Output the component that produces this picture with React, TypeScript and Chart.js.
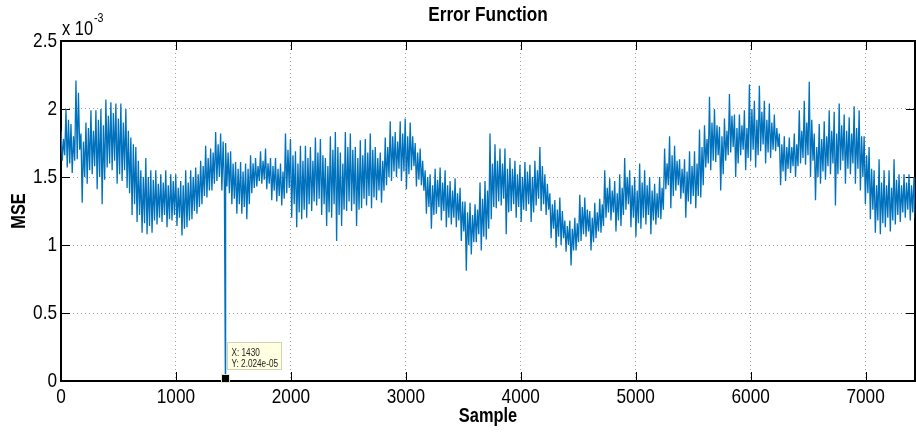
import React, { useEffect, useRef } from "react";
import { Chart, registerables } from "chart.js";

Chart.register(...registerables);

// ---- axis settings ----
const X_MAX = 7430;
const Y_MAX = 2.5; // in units of 1e-3
const xTickValues = [0, 1000, 2000, 3000, 4000, 5000, 6000, 7000];
const yTickValues = [0, 0.5, 1, 1.5, 2, 2.5];
const BLOCK_SAMPLES = 43.4; // each block holds two peaks and two troughs

// ---- texts ----
const titleText = "Error Function";
const xTitle = "Sample";
const yTitle = "MSE";
const exponentBase = "x 10";
const exponentPower = "-3";

// ---- series (MSE, units of 1e-3), read per block of ~43 samples ----
// largest peak of each block
const mseHigh = [
  1.84, 2.0, 1.89, 2.21, 1.82, 1.9, 1.99, 1.99, 2.0, 2.07,
  2.05, 2.04, 2.04, 2.0, 1.79, 1.72, 1.55, 1.64, 1.55, 1.55,
  1.52, 1.55, 1.52, 1.52, 1.47, 1.55, 1.55, 1.57, 1.62, 1.73,
  1.71, 1.83, 1.82, 1.75, 1.69, 1.61, 1.61, 1.6, 1.66, 1.64,
  1.69, 1.71, 1.64, 1.64, 1.6, 1.82, 1.78, 1.69, 1.73, 1.73,
  1.72, 1.79, 1.78, 1.64, 1.8, 1.83, 1.68, 1.83, 1.82, 1.72,
  1.77, 1.78, 1.82, 1.72, 1.68, 1.79, 1.91, 1.83, 1.91, 1.93,
  1.9, 1.75, 1.71, 1.55, 1.52, 1.56, 1.57, 1.55, 1.47, 1.49,
  1.42, 1.32, 1.31, 1.3, 1.46, 1.47, 1.82, 1.74, 1.71, 1.71,
  1.64, 1.62, 1.59, 1.61, 1.59, 1.62, 1.72, 1.52, 1.38, 1.33,
  1.35, 1.18, 1.18, 1.2, 1.37, 1.35, 1.25, 1.31, 1.34, 1.55,
  1.49, 1.47, 1.52, 1.64, 1.55, 1.5, 1.6, 1.55, 1.5, 1.45,
  1.5, 1.71, 1.8, 1.73, 1.63, 1.63, 1.69, 1.69, 1.85, 1.88,
  2.09, 2.0, 1.87, 1.93, 2.11, 1.96, 1.96, 1.99, 2.18, 2.06,
  2.17, 2.06, 2.04, 1.96, 1.82, 1.8, 1.79, 1.82, 1.99, 2.06,
  2.2, 1.82, 1.89, 1.91, 1.99, 1.98, 2.04, 1.96, 1.94, 2.02,
  1.99, 1.8, 1.72, 1.55, 1.63, 1.55, 1.55, 1.63, 1.52, 1.52,
  1.52, 1.5,
];

// deepest trough of each block
const mseLow = [
  1.62, 1.57, 1.53, 1.63, 1.31, 1.45, 1.52, 1.41, 1.3, 1.57,
  1.55, 1.45, 1.47, 1.42, 1.22, 1.17, 1.09, 1.08, 1.09, 1.15,
  1.17, 1.13, 1.18, 1.14, 1.07, 1.13, 1.19, 1.23, 1.3, 1.35,
  1.4, 1.47, 1.4, 1.43, 1.3, 1.23, 1.23, 1.19, 1.38, 1.43,
  1.45, 1.41, 1.33, 1.32, 1.29, 1.38, 1.2, 1.13, 1.19, 1.2,
  1.25, 1.29, 1.22, 1.14, 1.2, 1.03, 1.14, 1.25, 1.25, 1.14,
  1.27, 1.29, 1.27, 1.33, 1.31, 1.44, 1.47, 1.5, 1.47, 1.41,
  1.55, 1.43, 1.44, 1.23, 1.12, 1.23, 1.18, 1.13, 1.15, 1.13,
  1.03, 0.81, 0.93, 1.02, 0.96, 1.04, 1.19, 1.27, 1.29, 1.08,
  1.25, 1.2, 1.17, 1.25, 1.17, 1.29, 1.25, 1.22, 1.05, 0.98,
  1.0, 0.95, 0.85, 0.96, 1.03, 1.06, 0.96, 1.05, 1.09, 1.2,
  1.18, 1.1, 1.14, 1.26, 1.13, 1.06, 1.12, 1.15, 1.08, 1.15,
  1.19, 1.41, 1.27, 1.4, 1.34, 1.2, 1.3, 1.27, 1.35, 1.57,
  1.55, 1.61, 1.4, 1.62, 1.68, 1.5, 1.66, 1.55, 1.62, 1.57,
  1.69, 1.6, 1.64, 1.69, 1.44, 1.47, 1.53, 1.5, 1.6, 1.59,
  1.5, 1.33, 1.45, 1.48, 1.52, 1.29, 1.55, 1.45, 1.52, 1.45,
  1.4, 1.3, 1.19, 1.09, 1.08, 1.13, 1.1, 1.15, 1.17, 1.2,
  1.18, 1.2,
];

// second (smaller) peak of each block
const mseHigh2 = [
  1.78, 1.92, 1.8, 2.12, 1.76, 1.86, 1.84, 1.92, 1.88, 1.95,
  1.97, 1.93, 1.9, 1.84, 1.74, 1.62, 1.5, 1.5, 1.48, 1.45,
  1.46, 1.44, 1.47, 1.42, 1.44, 1.46, 1.5, 1.52, 1.58, 1.64,
  1.68, 1.74, 1.76, 1.68, 1.6, 1.56, 1.54, 1.56, 1.6, 1.58,
  1.62, 1.6, 1.58, 1.56, 1.54, 1.7, 1.66, 1.6, 1.62, 1.64,
  1.62, 1.68, 1.66, 1.58, 1.7, 1.72, 1.6, 1.72, 1.7, 1.64,
  1.66, 1.68, 1.7, 1.64, 1.62, 1.72, 1.8, 1.76, 1.82, 1.8,
  1.8, 1.68, 1.62, 1.5, 1.44, 1.48, 1.46, 1.44, 1.4, 1.38,
  1.32, 1.24, 1.22, 1.26, 1.34, 1.4, 1.6, 1.62, 1.6, 1.56,
  1.56, 1.52, 1.5, 1.54, 1.5, 1.55, 1.58, 1.45, 1.3, 1.26,
  1.25, 1.14, 1.12, 1.16, 1.28, 1.26, 1.2, 1.24, 1.3, 1.42,
  1.4, 1.38, 1.42, 1.5, 1.44, 1.4, 1.46, 1.44, 1.4, 1.38,
  1.42, 1.6, 1.66, 1.62, 1.56, 1.54, 1.58, 1.6, 1.72, 1.78,
  1.9, 1.88, 1.8, 1.84, 1.95, 1.86, 1.88, 1.86, 2.0, 1.92,
  1.98, 1.92, 1.9, 1.86, 1.74, 1.72, 1.72, 1.74, 1.84, 1.9,
  1.92, 1.72, 1.78, 1.8, 1.84, 1.82, 1.88, 1.84, 1.82, 1.86,
  1.8, 1.66, 1.56, 1.44, 1.46, 1.44, 1.42, 1.48, 1.44, 1.46,
  1.44, 1.42,
];

// second (shallower) trough of each block
const mseLow2 = [
  1.66, 1.6, 1.62, 1.7, 1.5, 1.55, 1.58, 1.5, 1.48, 1.6,
  1.62, 1.52, 1.55, 1.38, 1.3, 1.22, 1.16, 1.14, 1.18, 1.2,
  1.22, 1.19, 1.22, 1.2, 1.12, 1.18, 1.25, 1.28, 1.36, 1.4,
  1.45, 1.5, 1.45, 1.38, 1.34, 1.3, 1.28, 1.3, 1.42, 1.47,
  1.48, 1.45, 1.4, 1.36, 1.34, 1.42, 1.3, 1.24, 1.26, 1.3,
  1.32, 1.34, 1.3, 1.24, 1.3, 1.22, 1.26, 1.32, 1.3, 1.26,
  1.34, 1.36, 1.35, 1.4, 1.4, 1.5, 1.54, 1.56, 1.54, 1.52,
  1.58, 1.48, 1.4, 1.28, 1.22, 1.28, 1.25, 1.2, 1.2, 1.18,
  1.1, 1.0, 1.02, 1.08, 1.06, 1.12, 1.28, 1.32, 1.34, 1.24,
  1.3, 1.28, 1.26, 1.3, 1.24, 1.34, 1.3, 1.26, 1.12, 1.06,
  1.05, 1.0, 0.96, 1.02, 1.08, 1.1, 1.02, 1.1, 1.14, 1.24,
  1.24, 1.18, 1.22, 1.3, 1.2, 1.16, 1.2, 1.22, 1.18, 1.2,
  1.26, 1.44, 1.36, 1.44, 1.38, 1.32, 1.36, 1.36, 1.44, 1.6,
  1.62, 1.66, 1.52, 1.66, 1.72, 1.6, 1.7, 1.64, 1.7, 1.66,
  1.74, 1.68, 1.7, 1.72, 1.54, 1.56, 1.58, 1.58, 1.64, 1.66,
  1.62, 1.5, 1.54, 1.58, 1.6, 1.52, 1.62, 1.56, 1.6, 1.56,
  1.5, 1.38, 1.26, 1.18, 1.16, 1.2, 1.18, 1.22, 1.24, 1.26,
  1.24, 1.26,
];

// ---- data tip ----
const tipSample = 1430;
const tipValue = 0.02024; // 2.024e-05 in units of 1e-3
const tipLines = ["X: 1430", "Y: 2.024e-05"];

// ---- styles ----
const FONT = "'Liberation Sans', Arial, Helvetica, sans-serif";
const SQUEEZE = 0.82; // narrow Helvetica look
const LINE_COLOR = "#0072BD";

function buildSeries() {
  const q = BLOCK_SAMPLES / 4;
  const pts: { x: number; y: number }[] = [];
  for (let i = 0; i < mseHigh.length; i++) {
    const x0 = i * BLOCK_SAMPLES;
    pts.push({ x: x0, y: mseHigh[i] });
    pts.push({ x: x0 + q, y: mseLow[i] });
    pts.push({ x: x0 + 2 * q, y: mseHigh2[i] });
    pts.push({ x: x0 + 3 * q, y: mseLow2[i] });
  }
  pts.push({ x: tipSample, y: tipValue });
  pts.sort((a, b) => a.x - b.x);
  return pts;
}

function squeezeText(ctx: any) {
  if (ctx.__squeezed) return;
  const orig = ctx.fillText;
  ctx.fillText = function (text: string, x: number, y: number, maxWidth?: number) {
    this.save();
    this.translate(x, y);
    this.scale(SQUEEZE, 1);
    if (maxWidth !== undefined && maxWidth !== null) orig.call(this, text, 0, 0, maxWidth / SQUEEZE);
    else orig.call(this, text, 0, 0);
    this.restore();
  };
  ctx.__squeezed = true;
}

const matlabAxesPlugin = {
  id: "matlabAxes",
  beforeInit(chart: any) {
    squeezeText(chart.ctx);
  },
  beforeDatasetsDraw(chart: any) {
    const { ctx, chartArea: a, scales } = chart;
    const xs = scales.x;
    const ys = scales.y;
    const TL = 9;
    ctx.save();
    ctx.strokeStyle = "#000";
    ctx.lineWidth = 1;
    ctx.beginPath();
    xs.ticks.forEach((t: any) => {
      const px = Math.round(xs.getPixelForValue(t.value)) + 0.5;
      ctx.moveTo(px, a.bottom);
      ctx.lineTo(px, a.bottom - TL);
      ctx.moveTo(px, a.top);
      ctx.lineTo(px, a.top + TL);
    });
    ys.ticks.forEach((t: any) => {
      const py = Math.round(ys.getPixelForValue(t.value)) + 0.5;
      ctx.moveTo(a.left, py);
      ctx.lineTo(a.left + TL, py);
      ctx.moveTo(a.right, py);
      ctx.lineTo(a.right - TL, py);
    });
    ctx.stroke();
    ctx.lineWidth = 2;
    ctx.strokeRect(a.left, a.top, a.right - a.left, a.bottom - a.top);
    ctx.restore();
  },
  afterDraw(chart: any) {
    const { ctx, chartArea: a, scales } = chart;
    ctx.save();
    // exponent label
    ctx.fillStyle = "#000";
    ctx.textBaseline = "alphabetic";
    ctx.textAlign = "left";
    ctx.font = `20px ${FONT}`;
    const bx = a.left + 1;
    ctx.fillText(exponentBase, bx, 35);
    const w = ctx.measureText(exponentBase).width * SQUEEZE;
    ctx.font = `13px ${FONT}`;
    ctx.fillText(exponentPower, bx + w + 1, 22);

    // data tip box
    const cx = Math.round(scales.x.getPixelForValue(tipSample));
    const cy = Math.round(scales.y.getPixelForValue(tipValue));
    const boxL = cx + 2.5;
    const boxT = cy - 35.5;
    ctx.fillStyle = "#FFFFE1";
    ctx.strokeStyle = "#D4D4B4";
    ctx.lineWidth = 1;
    ctx.fillRect(boxL, boxT, 54, 27);
    ctx.strokeRect(boxL, boxT, 54, 27);
    ctx.fillStyle = "#222";
    ctx.font = `10px ${FONT}`;
    tipLines.forEach((s, i) => {
      ctx.fillText(s, boxL + 4, boxT + 13.5 + i * 11);
    });
    // data tip marker
    ctx.fillStyle = "#000";
    ctx.strokeStyle = "#E8E8C8";
    ctx.lineWidth = 1;
    ctx.fillRect(cx - 3, cy - 3, 7, 7);
    ctx.strokeRect(cx - 3.5, cy - 3.5, 8, 8);
    ctx.restore();
  },
};

export default function App() {
  const ref = useRef<HTMLCanvasElement>(null);
  useEffect(() => {
    document.body.style.margin = "0";
    const canvas = ref.current;
    if (!canvas) return;
    const chart = new Chart(canvas, {
      type: "line",
      data: {
        datasets: [
          {
            data: buildSeries(),
            borderColor: LINE_COLOR,
            borderWidth: 1.3,
            pointRadius: 0,
            fill: false,
            tension: 0,
          },
        ],
      },
      options: {
        responsive: false,
        animation: false,
        devicePixelRatio: 1,
        layout: { padding: { left: 0, right: 1, top: 0, bottom: 0 } },
        plugins: {
          legend: { display: false },
          tooltip: { enabled: false },
          title: {
            display: true,
            text: titleText,
            fullSize: false,
            color: "#000",
            font: { family: FONT, size: 21, weight: "bold", lineHeight: 1.2 },
            padding: { top: 3, bottom: 12.8 },
          },
        },
        scales: {
          x: {
            type: "linear",
            min: 0,
            max: X_MAX,
            afterFit: (s: any) => {
              s.height = 51;
            },
            afterBuildTicks: (s: any) => {
              s.ticks = xTickValues.map((v) => ({ value: v }));
            },
            ticks: {
              color: "#000",
              padding: 4,
              maxRotation: 0,
              autoSkip: false,
              font: { family: FONT, size: 21, lineHeight: 1.2 },
              callback: (v: any) => String(v),
            },
            grid: { color: "#a0a0a0", lineWidth: 1, drawTicks: false },
            border: { display: false, dash: [1, 3] },
            title: {
              display: true,
              text: xTitle,
              color: "#000",
              font: { family: FONT, size: 20, weight: "bold", lineHeight: 1.2 },
              padding: { top: 0, bottom: 4 },
            },
          },
          y: {
            type: "linear",
            min: 0,
            max: Y_MAX,
            afterFit: (s: any) => {
              s.width = 61;
            },
            afterBuildTicks: (s: any) => {
              s.ticks = yTickValues.map((v) => ({ value: v }));
            },
            ticks: {
              color: "#000",
              padding: 4,
              autoSkip: false,
              font: { family: FONT, size: 21, lineHeight: 1.2 },
              callback: (v: any) => String(Number(v)),
            },
            grid: { color: "#a0a0a0", lineWidth: 1, drawTicks: false },
            border: { display: false, dash: [1, 3] },
            title: {
              display: true,
              text: yTitle,
              color: "#000",
              font: { family: FONT, size: 20, weight: "bold", lineHeight: 1.2 },
              padding: { top: 7, bottom: 0 },
            },
          },
        },
      },
      plugins: [matlabAxesPlugin],
    } as any);
    return () => chart.destroy();
  }, []);
  return (
    <div style={{ position: "fixed", left: 0, top: 0, width: 916, height: 432, background: "#fff" }}>
      <canvas ref={ref} width={916} height={432} style={{ display: "block" }} />
    </div>
  );
}
